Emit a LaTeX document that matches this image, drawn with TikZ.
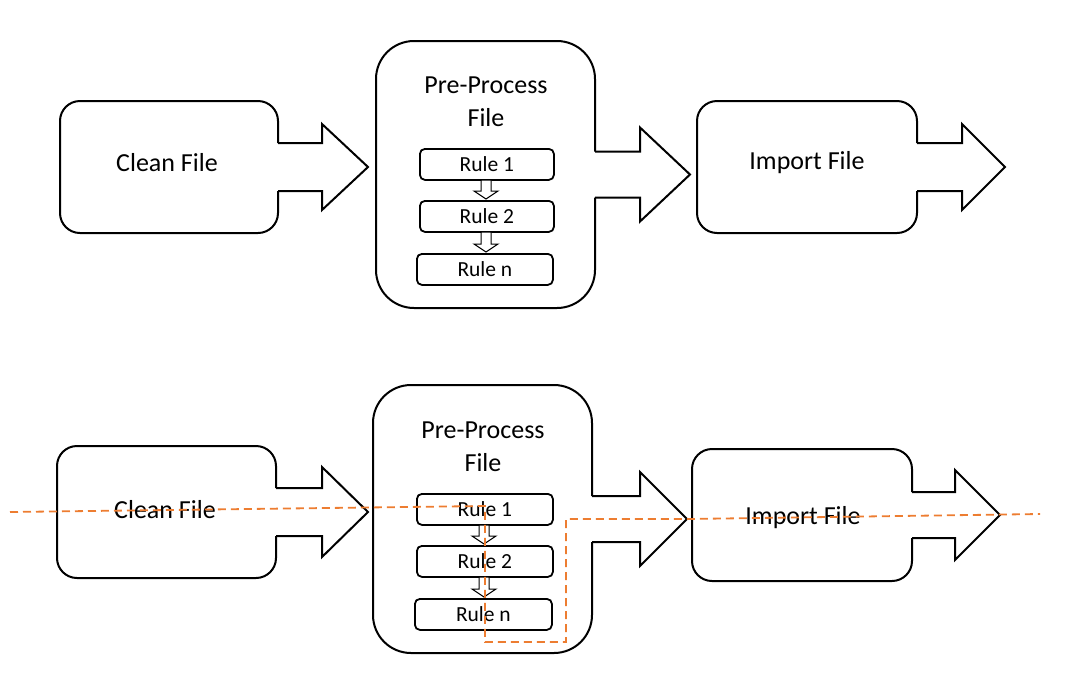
\documentclass[tikz,border=0pt]{standalone}
\usepackage{fontspec}
\setmainfont{Carlito}
\begin{document}
\begin{tikzpicture}[x=1pt,y=-1pt,line width=2pt,
  lbl/.style={font=\fontsize{26}{33}\selectfont},
  rl/.style={draw,rounded corners=5pt,line width=1.8pt,minimum width=134pt,minimum height=31pt,inner sep=0pt,font=\fontsize{21.5}{24}\selectfont,anchor=north west},
  sa/.style={draw,line width=1pt,fill=white}]
\useasboundingbox (0,0) rectangle (1065,673);
\definecolor{tro}{RGB}{237,125,49}
\newcommand\callout[9]{%
  \draw[rounded corners=#5] (#3,{(#2+#4)/2-#6}) -- (#3,#2) -- (#1,#2) -- (#1,#4) -- (#3,#4) -- (#3,{(#2+#4)/2+#6});
  \draw[line join=miter] (#3,{(#2+#4)/2+#6}) -- (#7,{(#2+#4)/2+#6}) -- (#7,{(#2+#4)/2+#8}) -- (#9,{(#2+#4)/2}) -- (#7,{(#2+#4)/2-#8}) -- (#7,{(#2+#4)/2-#6}) -- (#3,{(#2+#4)/2-#6});
}
\newcommand\smallarrow[3]{%
  \draw[sa] (#1-5,#2) -- (#1+5,#2) -- (#1+5,{#3-8}) -- (#1+12,{#3-8}) -- (#1,#3) -- (#1-12,{#3-8}) -- (#1-5,{#3-8}) -- cycle;
}
% top row
\callout{60}{101}{278}{233}{20pt}{24}{322}{43}{368}
\callout{376}{41}{595}{308}{38pt}{23}{640}{47}{690}
\callout{697}{101}{917}{233}{20pt}{24}{962}{43}{1005}
\node[lbl] (c1) at (167,163) {Clean File};
\node[lbl,align=center] (p1) at (486,102) {Pre-Process\\File};
\node[lbl] (i1) at (807,163) {Import File};
\node[rl] (r11) at (419,148) {Rule 1};
\node[rl] (r12) at (419,200) {Rule 2};
\node[rl,minimum width=136pt] (r1n) at (416,253) {Rule n};
\smallarrow{486}{180}{199}
\smallarrow{486}{232}{252}
% bottom row
\callout{57}{446}{276}{578}{20pt}{24}{322}{45}{368}
\callout{373}{385}{592}{653}{38pt}{23}{640}{47}{687}
\callout{692}{449}{912}{581}{20pt}{23}{955}{45}{1000}
\node[lbl] (c2) at (165,510) {Clean File};
\node[lbl,align=center] (p2) at (483,447) {Pre-Process\\File};
\node[lbl] (i2) at (803,518) {Import File};
\node[rl,minimum width=136pt] (r21) at (416,493) {Rule 1};
\node[rl,minimum width=136pt] (r22) at (416,545) {Rule 2};
\node[rl,minimum width=137pt] (r2n) at (414,598) {Rule n};
\smallarrow{484}{525}{544}
\smallarrow{484}{577}{597}
% trace
\coordinate (t0) at (10,512);
\coordinate (t1) at (485,506);
\coordinate (t2) at (485,642);
\coordinate (t3) at (566,642);
\coordinate (t4) at (566,519);
\coordinate (t5) at (1040,514);
\draw[tro,line width=1.8pt,dash pattern=on 8pt off 5pt] (t0) -- (t1) -- (t2) -- (t3) -- (t4) -- (687,519) -- (t5);
\end{tikzpicture}
\end{document}
